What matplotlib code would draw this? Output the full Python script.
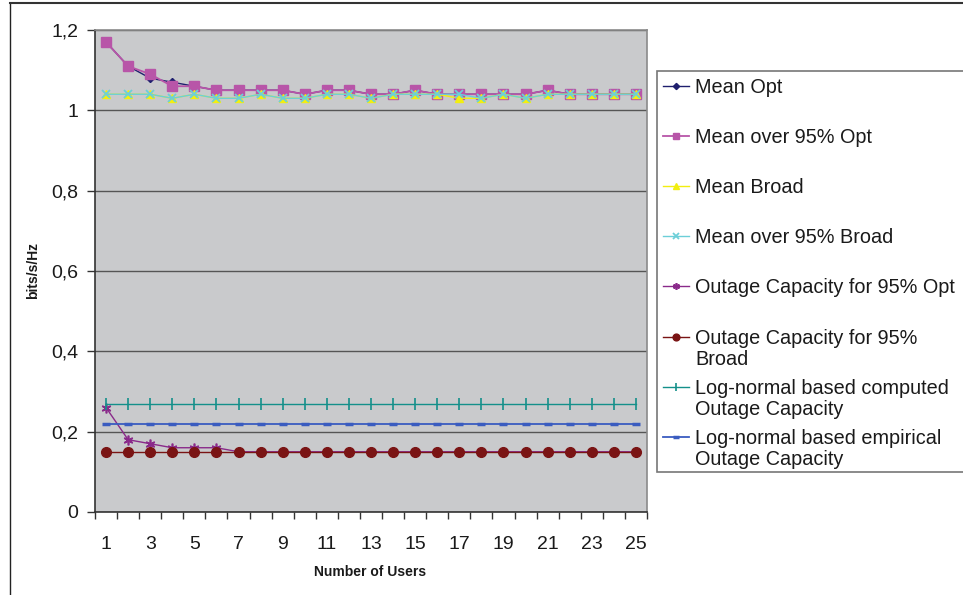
import matplotlib
matplotlib.use("Agg")
import matplotlib.pyplot as plt
from matplotlib.patches import Rectangle
from matplotlib.lines import Line2D

plt.rcParams['font.family'] = ['Liberation Sans', 'DejaVu Sans']

users = list(range(1, 26))
mean_opt = [1.17, 1.11, 1.08, 1.07, 1.06, 1.05, 1.05, 1.05, 1.05, 1.04, 1.05, 1.05, 1.04,
            1.04, 1.05, 1.04, 1.04, 1.04, 1.04, 1.04, 1.05, 1.04, 1.04, 1.04, 1.04]
mean95_opt = [1.17, 1.11, 1.09, 1.06, 1.06, 1.05, 1.05, 1.05, 1.05, 1.04, 1.05, 1.05, 1.04,
              1.04, 1.05, 1.04, 1.04, 1.04, 1.04, 1.04, 1.05, 1.04, 1.04, 1.04, 1.04]
mean_broad = [1.04, 1.04, 1.04, 1.03, 1.04, 1.03, 1.03, 1.04, 1.03, 1.03, 1.04, 1.04, 1.03,
              1.04, 1.04, 1.04, 1.03, 1.03, 1.04, 1.03, 1.04, 1.04, 1.04, 1.04, 1.04]
mean95_broad = [1.04, 1.04, 1.04, 1.03, 1.04, 1.03, 1.03, 1.04, 1.03, 1.03, 1.04, 1.04, 1.03,
                1.04, 1.04, 1.04, 1.04, 1.03, 1.04, 1.03, 1.04, 1.04, 1.04, 1.04, 1.04]
outage_opt = [0.26, 0.18, 0.17, 0.16, 0.16, 0.16] + [0.15] * 19
outage_broad = [0.15] * 25
lognorm_computed = [0.27] * 25
lognorm_empirical = [0.22] * 25

labels = ["Mean Opt", "Mean over 95% Opt", "Mean Broad", "Mean over 95% Broad",
          "Outage Capacity for 95% Opt", "Outage Capacity for 95%\nBroad",
          "Log-normal based computed\nOutage Capacity", "Log-normal based empirical\nOutage Capacity"]
yticks = [0, 0.2, 0.4, 0.6, 0.8, 1.0, 1.2]
ytick_labels = ["0", "0,2", "0,4", "0,6", "0,8", "1", "1,2"]

series = [mean_opt, mean95_opt, mean_broad, mean95_broad, outage_opt, outage_broad,
          lognorm_computed, lognorm_empirical]
styles = [
    dict(color='#1f1f6e', marker='D', ms=4.5, mec='#1f1f6e', mfc='#1f1f6e', lw=1.0),
    dict(color='#b855a8', marker='s', ms=7, mec='#b855a8', mfc='#b855a8', lw=1.3),
    dict(color='#f2ee10', marker='^', ms=6, mec='#f2ee10', mfc='#f2ee10', lw=1.0),
    dict(color='#6ccfd8', marker='x', ms=6, mec='#6ccfd8', mew=1.3, lw=1.0),
    dict(color='#8a2a8a', marker=(6, 2, 0), ms=7, mec='#8a2a8a', mew=1.2, lw=1.0),
    dict(color='#7a1414', marker='o', ms=7, mec='#7a1414', mfc='#7a1414', lw=1.0),
    dict(color='#14908a', marker='|', ms=8, mec='#14908a', mew=1.2, lw=1.0),
    dict(color='#3a5cc0', marker='_', ms=6, mec='#3a5cc0', mew=2.5, lw=1.3),
]

W, H = 963, 595
fig = plt.figure(figsize=(W / 100, H / 100), dpi=100)
fig.patch.set_facecolor('white')

L, R, T, B = 95, 647, 30, 512
ax = fig.add_axes([L / W, 1 - B / H, (R - L) / W, (B - T) / H])
ax.set_facecolor('#c9cacc')

for vals, st in zip(series, styles):
    ax.plot(users, vals, **st, zorder=3)

ax.set_xlim(0.5, 25.5)
ax.set_ylim(0, 1.2)
ax.set_yticks(yticks)
ax.set_yticklabels(ytick_labels)
ax.yaxis.grid(True, color='#555555', lw=1.0)
ax.set_axisbelow(True)

ax.set_xticks(users[::2])
ax.set_xticklabels([str(u) for u in users[::2]])
ax.set_xticks([u - 0.5 for u in users] + [25.5], minor=True)
ax.tick_params(axis='x', which='major', length=0, pad=17, labelsize=14, colors='#1a1a1a')
ax.tick_params(axis='x', which='minor', length=5, width=1, direction='out', color='#333333')
ax.tick_params(axis='y', length=6, width=1, direction='out', pad=6, labelsize=14,
               colors='#1a1a1a', color='#333333')

for s in ['top', 'right']:
    ax.spines[s].set_color('#8a8a8a')
    ax.spines[s].set_linewidth(1.2)
for s in ['left', 'bottom']:
    ax.spines[s].set_color('#333333')
    ax.spines[s].set_linewidth(1.2)

fig.text(370 / W, 1 - 572 / H, "Number of Users", ha='center', va='center',
         fontsize=10, fontweight='bold', color='#1a1a1a')
fig.text(33 / W, 1 - 271 / H, "bits/s/Hz", ha='center', va='center', rotation=90,
         fontsize=10, fontweight='bold', color='#1a1a1a')

# overlay in pixel coordinates for frame and legend
lax = fig.add_axes([0, 0, 1, 1])
lax.set_xlim(0, W)
lax.set_ylim(H, 0)
lax.axis('off')
lax.patch.set_alpha(0)

lax.add_line(Line2D([10, 10], [3, 600], color='#222222', lw=1.0))
lax.add_line(Line2D([10, 970], [3, 3], color='#333333', lw=1.5))

lax.add_patch(Rectangle((657, 71), 320, 401, facecolor='white', edgecolor='#777777', lw=1.2))

ys = [86, 136, 186, 236, 286, 337, 387, 437]
for lab, st, y in zip(labels, styles, ys):
    st2 = dict(st)
    st2['ms'] = st['ms'] * 0.7
    lax.plot([663, 689], [y, y], **{k: v for k, v in st2.items() if k != 'marker'}, marker=None)
    lax.plot([676], [y], linestyle='none', **{k: v for k, v in st2.items() if k not in ('lw',)})
    for i, line in enumerate(lab.split("\n")):
        lax.text(695, y + 7 + 21 * i, line, ha='left', va='baseline', fontsize=14.3,
                 color='#1a1a1a')

fig.savefig("out.png", dpi=100)
